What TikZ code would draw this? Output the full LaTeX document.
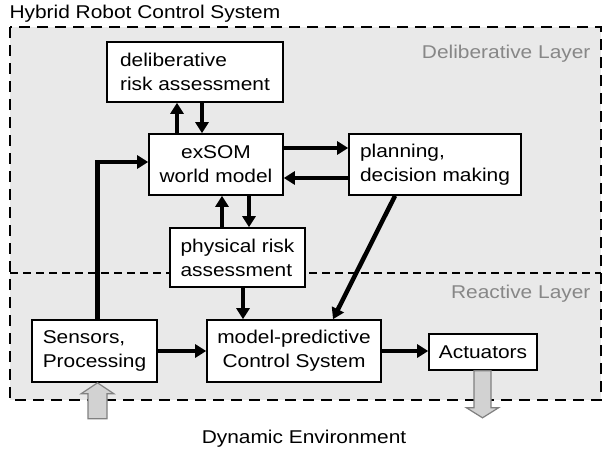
\documentclass[tikz,border=0pt]{standalone}
\usepackage{fontspec}
\setmainfont{Liberation Sans}[FakeStretch=1.13]
\usetikzlibrary{arrows.meta}
\definecolor{layerbg}{RGB}{233,233,233}
\definecolor{layertxt}{RGB}{135,135,135}
\definecolor{iofill}{RGB}{210,210,210}

\begin{document}
\begin{tikzpicture}[x=1pt,y=-1pt,
  font=\fontsize{18.5}{24}\selectfont,
  box/.style={draw,line width=1.6pt,fill=white,align=left,inner sep=0pt},
  flow/.style={line width=4.5pt,-{Triangle[length=11pt,width=13pt]}},
  ioarrow/.style={draw=gray,line width=1.2pt,fill=iofill,line join=miter}]
\useasboundingbox (0,0) rectangle (604,452);
% system frame and layer split
\draw[line width=2.5pt,dash pattern=on 11pt off 7pt,fill=layerbg] (10,27) rectangle (601,400);
\draw[line width=1.5pt,dash pattern=on 8pt off 5pt] (10,273) -- (601,273);
\node[anchor=base west] (title) at (6,19) {Hybrid Robot Control System};
\node[anchor=base east,text=layertxt] (dlayer) at (594,59) {Deliberative Layer};
\node[anchor=base east,text=layertxt] (rlayer) at (594,298) {Reactive Layer};
\node[anchor=base] (env) at (304,443) {Dynamic Environment};
% deliberative layer
\node[box,minimum width=176,minimum height=60] (delib) at (195,72) {deliberative\\risk assessment};
\node[box,minimum width=134,minimum height=61,align=center] (exsom) at (216,164.5) {exSOM\\world model};
\node[box,minimum width=172,minimum height=61] (plan) at (435,164.5) {planning,\\decision making};
\node[box,minimum width=135,minimum height=59] (phys) at (237.5,257.5) {physical risk\\assessment};
% reactive layer
\node[box,minimum width=125,minimum height=62] (sens) at (94.5,351) {Sensors,\\Processing};
\node[box,minimum width=174,minimum height=62,align=center] (mpc) at (294,351) {model-predictive\\Control System};
\node[box,minimum width=108,minimum height=36] (act) at (483,352) {Actuators};
% data flow
\draw[flow] ([xshift=-39pt]exsom.north) -- ([xshift=-39pt]exsom.north |- delib.south);
\draw[flow] ([xshift=-14pt]exsom.north |- delib.south) -- ([xshift=-14pt]exsom.north);
\draw[flow] ([yshift=16.5pt]exsom.east) -- ([yshift=16.5pt]exsom.east -| plan.west);
\draw[flow] ([yshift=-13.5pt]exsom.east -| plan.west) -- ([yshift=-13.5pt]exsom.east);
\draw[flow] ([xshift=6pt]exsom.south |- phys.north) -- ([xshift=6pt]exsom.south);
\draw[flow] ([xshift=33pt]exsom.south) -- ([xshift=33pt]exsom.south |- phys.north);
\draw[flow] ([xshift=3pt]sens.north) |- ([yshift=2.5pt]exsom.west);
\draw[flow] ([xshift=5.5pt]phys.south) -- ([xshift=5.5pt]phys.south |- mpc.north);
\draw[flow] ([xshift=-40pt]plan.south) -- ([xshift=39pt]mpc.north);
\draw[flow] (sens.east) -- (mpc.west);
\draw[flow] (mpc.east) -- (mpc.east -| act.west);
% environment in and out
\draw[ioarrow] ([xshift=3pt]sens.south) -- ++(16.5,11) -- ++(-7,0) -- ++(0,25) -- ++(-19,0) -- ++(0,-25) -- ++(-7,0) -- cycle;
\draw[ioarrow] ([xshift=-9pt]act.south) -- ++(0,37) -- ++(-7.5,0) -- ++(16,10) -- ++(16,-10) -- ++(-7.5,0) -- ++(0,-37) -- cycle;
\end{tikzpicture}
\end{document}
